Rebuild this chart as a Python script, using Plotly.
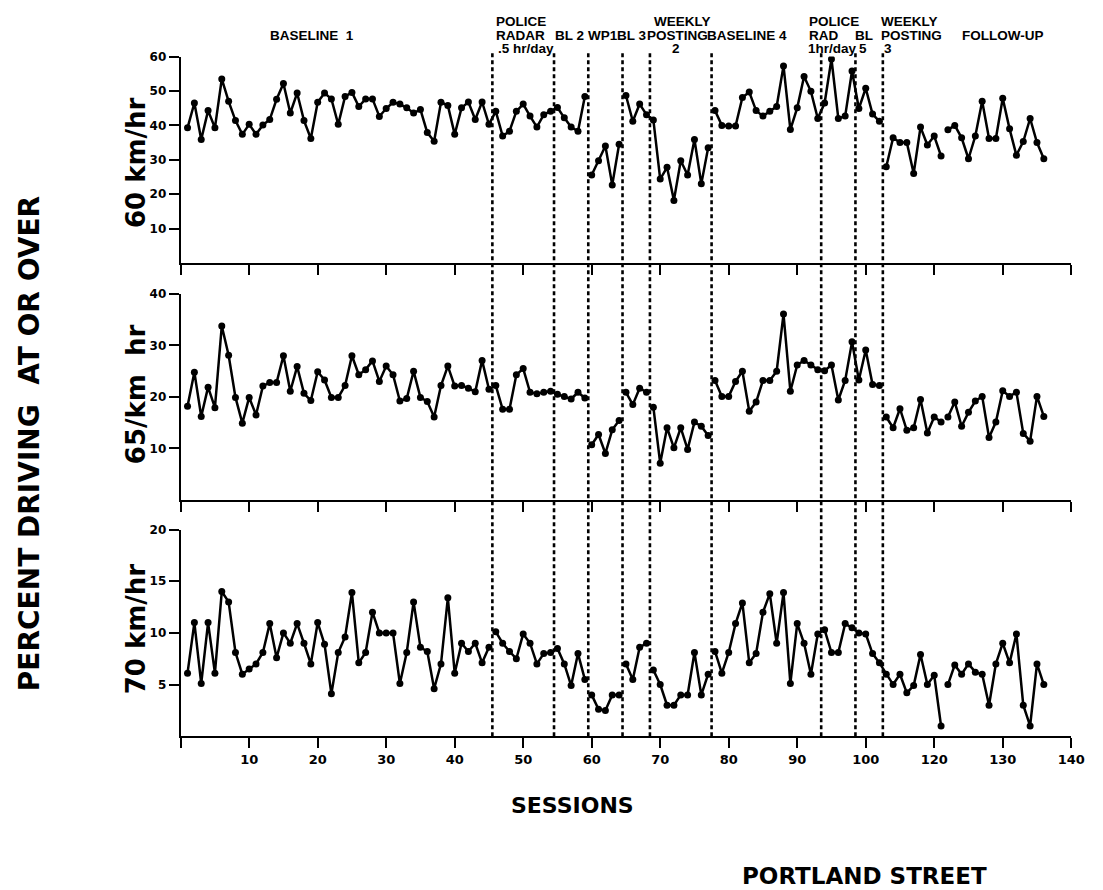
import plotly.graph_objects as go

W, H = 1103, 890

# ---------------- data ----------------
sessions = list(range(1, 127))

pct_60 = [
    # Baseline 1 (1-45)
    39.3, 46.5, 35.9, 44.3, 39.3, 53.5, 47.0, 41.4, 37.4, 40.3,
    37.4, 40.1, 41.7, 47.6, 52.2, 43.6, 49.4, 41.4, 36.2, 46.7,
    49.4, 47.7, 40.3, 48.4, 49.6, 45.5, 47.7, 47.7, 42.6, 44.9,
    46.7, 46.2, 45.1, 43.6, 44.6, 37.9, 35.4, 46.7, 45.8, 37.4,
    45.1, 46.8, 41.7, 46.8, 40.3,
    # Police radar .5 hr/day (46-54)
    44.1, 36.9, 38.3, 44.1, 46.2, 42.7, 39.5, 43.1, 44.1,
    # BL 2 (55-59)
    45.2, 42.2, 39.5, 38.3, 48.4,
    # WP 1 (60-64)
    25.6, 29.7, 34.0, 22.7, 34.5,
    # BL 3 (65-68)
    48.7, 41.2, 46.2, 43.1,
    # Weekly posting 2 (69-77)
    41.6, 24.4, 27.8, 18.2, 29.7, 25.6, 35.9, 23.0, 33.5,
    # Baseline 4 (78-93)
    44.3, 40.0, 39.8, 39.8, 48.1, 49.7, 44.3, 42.7, 44.1, 45.5,
    57.3, 38.8, 45.1, 54.2, 49.9, 42.0,
    # Police rad 1 hr/day (94-98)
    46.5, 59.3, 42.0, 42.7, 55.8,
    # BL 5 (99-102)
    44.9, 50.8, 43.3, 41.2,
    # Weekly posting 3 (103-111)
    28.0, 36.4, 35.0, 35.0, 26.0, 39.5, 34.3, 36.9, 31.1,
    # Follow-up (112-126)
    38.7, 40.0, 36.4, 30.3, 36.9, 47.0, 36.2, 36.2, 47.9, 39.0,
    31.3, 35.3, 42.0, 35.0, 30.3,
]

pct_65 = [
    18.2, 24.8, 16.2, 21.9, 17.9, 33.8, 28.1, 19.9, 14.9, 19.9,
    16.5, 22.1, 22.8, 22.8, 28.0, 21.1, 25.9, 20.7, 19.3, 24.9,
    23.3, 19.9, 19.9, 22.2, 28.0, 24.3, 25.3, 27.0, 23.0, 26.0,
    24.3, 19.2, 19.7, 25.0, 19.9, 19.1, 16.1, 22.2, 26.0, 22.1,
    22.2, 21.7, 21.0, 27.1, 21.5,
    22.2, 17.6, 17.6, 24.3, 25.5, 20.9, 20.6, 20.9, 21.1,
    20.5, 20.1, 19.6, 20.9, 19.8,
    10.7, 12.7, 9.0, 13.6, 15.4,
    20.9, 18.5, 21.7, 20.9,
    18.0, 7.1, 14.0, 10.1, 14.0, 9.8, 15.1, 14.3, 12.5,
    23.2, 20.1, 20.1, 23.0, 25.0, 17.2, 19.0, 23.2, 23.2, 25.0,
    36.1, 21.1, 26.2, 27.1, 26.2, 25.3,
    25.1, 26.2, 19.4, 23.2, 30.7,
    23.3, 29.1, 22.4, 22.2,
    16.1, 14.0, 17.7, 13.5, 14.0, 19.5, 13.0, 16.1, 15.1,
    16.1, 19.0, 14.3, 17.0, 19.2, 20.1, 12.1, 15.1, 21.2, 20.1,
    20.9, 12.9, 11.4, 20.1, 16.2,
]

pct_70 = [
    6.1, 11.0, 5.1, 11.0, 6.1, 14.0, 13.0, 8.1, 6.0, 6.5,
    7.0, 8.1, 10.9, 7.6, 10.0, 9.0, 10.9, 9.0, 7.0, 11.0,
    8.9, 4.1, 8.1, 9.6, 13.9, 7.1, 8.1, 12.0, 10.0, 10.0,
    10.0, 5.1, 8.1, 13.0, 8.6, 8.2, 4.6, 7.0, 13.4, 6.1,
    9.0, 8.2, 9.0, 7.1, 8.6,
    10.1, 9.0, 8.2, 7.5, 9.9, 9.0, 7.0, 8.0, 8.1,
    8.5, 7.0, 4.9, 8.0, 5.5,
    4.0, 2.6, 2.5, 4.0, 4.0,
    7.0, 5.5, 8.6, 9.0,
    6.4, 5.0, 3.0, 3.0, 4.0, 4.0, 8.1, 4.0, 6.0,
    8.2, 6.1, 8.1, 10.9, 12.9, 7.1, 8.0, 12.0, 13.8, 9.0,
    13.9, 5.1, 10.9, 9.0, 6.0, 9.9,
    10.3, 8.1, 8.1, 10.9, 10.5,
    10.0, 9.9, 8.0, 7.1,
    6.0, 5.0, 6.0, 4.2, 4.9, 7.9, 5.0, 5.9, 1.0,
    5.0, 6.9, 6.0, 7.0, 6.2, 6.0, 3.0, 7.0, 9.0, 7.1,
    9.9, 3.0, 1.0, 7.0, 5.0,
]

# line breaks after these sessions (phase changes drawn unconnected)
breaks_60 = [59, 64, 77, 102, 111]
breaks_65 = [59, 64, 68, 77, 102, 111]
breaks_70 = [45, 59, 64, 68, 77, 111]

phase_lines = [45.5, 54.5, 59.5, 64.5, 68.5, 77.5, 93.5, 98.5, 102.5]

x_tick_vals = [0, 10, 20, 30, 40, 50, 60, 70, 80, 90, 100, 110, 120, 130]
x_tick_text = ["", "10", "20", "30", "40", "50", "60", "70", "80", "90",
               "100", "120", "130", "140"]

panel_labels = ["60 km/hr", "65/km\u00a0\u00a0hr", "70 km/hr"]
y_ranges = [(0, 60), (0, 40), (0, 20)]
y_ticks = [[10, 20, 30, 40, 50, 60], [10, 20, 30, 40], [5, 10, 15, 20]]

header_labels = [
    ("BASELINE\u00a0\u00a01", 316, 29, "center"),
    ("POLICE", 500, 15, "left"), ("RADAR", 500, 29, "left"), (".5 hr/day", 502, 42, "left"),
    ("BL 2", 560, 29, "left"), ("WP1", 594, 29, "left"), ("BL 3", 623, 29, "left"),
    ("WEEKLY", 660, 15, "left"), ("POSTING", 653, 29, "left"), ("2", 685, 42, "center"),
    ("BASELINE 4", 714, 29, "left"),
    ("POLICE", 817, 15, "left"), ("RAD", 817, 29, "left"), ("1hr/day", 816, 42, "left"),
    ("BL", 864, 29, "left"), ("5", 868, 42, "left"),
    ("WEEKLY", 890, 15, "left"), ("POSTING", 890, 29, "left"), ("3", 893, 42, "left"),
    ("FOLLOW-UP", 972, 29, "left"),
]

# ---------------- layout helpers ----------------
FONT = "DejaVu Sans"
HFONT = "Liberation Sans"


def px(x):
    return x / W


def py(y):
    return 1 - y / H


# pixel extents of plotting areas (y of value 0, y of top value)
panel_pix = [(258, 50), (496.7, 289.3), (735, 526.7)]
x_left, x_right = 183, 1085


def with_breaks(xs, ys, brk):
    ox, oy = [], []
    for s, v in zip(xs, ys):
        ox.append(s)
        oy.append(v)
        if s in brk:
            ox.append(None)
            oy.append(None)
    return ox, oy


fig = go.Figure()
series = [(pct_60, breaks_60), (pct_65, breaks_65), (pct_70, breaks_70)]
for i, (vals, brk) in enumerate(series):
    xs, ys = with_breaks(sessions, vals, brk)
    suffix = "" if i == 0 else str(i + 1)
    fig.add_trace(go.Scatter(
        x=xs, y=ys, mode="lines+markers",
        line=dict(color="black", width=2.5),
        marker=dict(color="black", size=7),
        connectgaps=False, showlegend=False, hoverinfo="skip",
        xaxis="x" + suffix, yaxis="y" + suffix,
    ))

layout = dict(
    width=W, height=H,
    margin=dict(l=0, r=0, t=0, b=0),
    paper_bgcolor="white", plot_bgcolor="white",
    showlegend=False,
)

for i in range(3):
    suffix = "" if i == 0 else str(i + 1)
    y0p, y1p = panel_pix[i]
    layout["xaxis" + suffix] = dict(
        domain=[px(x_left), px(x_right)], range=[0, 130],
        anchor="y" + suffix,
        showline=True, linecolor="black", linewidth=2,
        ticks="outside", ticklen=10, tickwidth=2, tickcolor="black",
        tickvals=x_tick_vals, ticktext=x_tick_text,
        showticklabels=(i == 2),
        tickfont=dict(family=FONT, size=13, color="black", weight="bold"),
        showgrid=False, zeroline=False, fixedrange=True,
    )
    layout["yaxis" + suffix] = dict(
        domain=[py(y0p), py(y1p)], range=list(y_ranges[i]),
        anchor="x" + suffix,
        showline=True, linecolor="black", linewidth=2,
        ticks="outside", ticklen=10, tickwidth=2, tickcolor="black",
        tickvals=y_ticks[i],
        tickfont=dict(family=FONT, size=12, color="black", weight="bold"),
        showgrid=False, zeroline=False, fixedrange=True,
    )

fig.update_layout(**layout)

# phase-change dashed lines spanning all three panels
for xp in phase_lines:
    fig.add_shape(type="line", xref="x", yref="paper",
                  x0=xp, x1=xp, y0=py(735), y1=py(45),
                  line=dict(color="black", width=2.6, dash="4px,3px"))

ann = []
for text, x, y, anchor in header_labels:
    ann.append(dict(text=text, x=px(x), y=py(y), xref="paper", yref="paper",
                    xanchor=anchor, yanchor="middle", showarrow=False,
                    font=dict(family=HFONT, size=13.5, color="black", weight="bold")))

label_y = [157, 390, 627]
for lab, yy in zip(panel_labels, label_y):
    ann.append(dict(text=lab, x=px(138), y=py(yy), xref="paper", yref="paper",
                    xanchor="center", yanchor="middle", textangle=-90, showarrow=False,
                    font=dict(family=FONT, size=26, color="black", weight="bold")))

ann.append(dict(text="PERCENT DRIVING\u00a0\u00a0AT OR OVER", x=px(30), y=py(440),
                xref="paper", yref="paper", xanchor="center", yanchor="middle",
                textangle=-90, showarrow=False,
                font=dict(family=FONT, size=28, color="black", weight="bold")))
ann.append(dict(text="SESSIONS", x=px(580), y=py(805), xref="paper", yref="paper",
                xanchor="center", yanchor="middle", showarrow=False,
                font=dict(family=FONT, size=22, color="black", weight="bold")))
ann.append(dict(text="PORTLAND STREET", x=px(876), y=py(876), xref="paper", yref="paper",
                xanchor="center", yanchor="middle", showarrow=False,
                font=dict(family=FONT, size=23, color="black", weight="bold")))

fig.update_layout(annotations=ann)

fig.write_html("out.html",
               config={"displayModeBar": False},
               post_script="document.body.style.margin='0';"
                           "document.body.style.overflow='hidden';")
